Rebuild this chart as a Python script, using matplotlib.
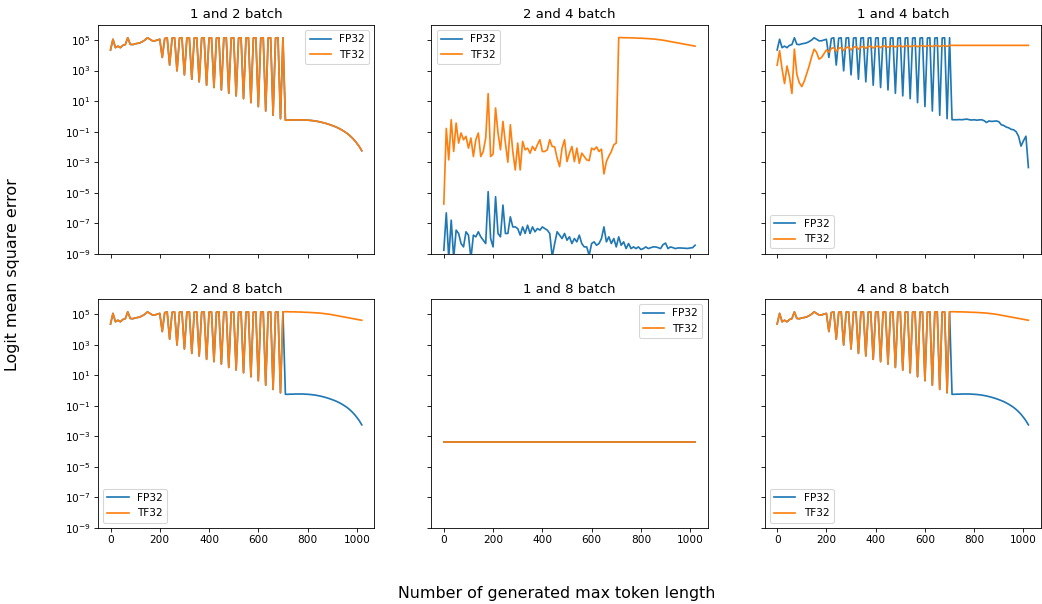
import matplotlib
matplotlib.use("Agg")
import matplotlib.pyplot as plt
import numpy as np

# Max token length grid (x axis)
tokens = np.arange(0, 1021, 10)

# All values below are log10(logit MSE)

# Shared start of the curves, tokens 0..190
head = [4.35, 5.05, 4.5, 4.6, 4.5, 4.65, 4.7, 5.15, 4.72, 4.7,
        4.75, 4.78, 4.82, 4.9, 5.0, 5.15, 5.05, 4.95, 4.95, 5.0]

# Shared sawtooth section, tokens 200..700
saw = [5.05, 3.86, 5.10, 5.15, 3.36, 5.12, 5.15, 2.98, 5.13, 5.15,
       2.72, 5.13, 5.15, 2.43, 5.13, 5.15, 2.26, 5.13, 5.15, 2.04,
       5.13, 5.15, 1.89, 5.13, 5.15, 1.73, 5.13, 5.15, 1.51, 5.13,
       5.15, 1.34, 5.13, 5.15, 1.16, 5.13, 5.15, 0.90, 5.13, 5.15,
       0.64, 5.13, 5.15, 0.35, 5.13, 5.15, 0.07, 5.13, 5.15, -0.15,
       5.15]

# Low plateau then roll-off, tokens 710..1020
low_tail = [-0.25, -0.25, -0.24, -0.24, -0.23, -0.23, -0.23, -0.23, -0.24, -0.25,
            -0.26, -0.28, -0.30, -0.33, -0.36, -0.40, -0.44, -0.49, -0.54, -0.60,
            -0.66, -0.73, -0.81, -0.90, -1.00, -1.11, -1.24, -1.39, -1.56, -1.76,
            -1.98, -2.25]

# High plateau, tokens 710..1020
high_tail = [5.16, 5.16, 5.15, 5.15, 5.15, 5.14, 5.14, 5.13, 5.12, 5.12,
             5.11, 5.10, 5.09, 5.08, 5.07, 5.05, 5.03, 5.01, 4.99, 4.96,
             4.93, 4.90, 4.87, 4.84, 4.81, 4.78, 4.75, 4.72, 4.69, 4.66,
             4.63, 4.60]

# 2 and 4 batch
b24_tf32_head = [-5.74, -0.79, -2.85, -0.22, -2.3, -0.44, -1.75, -1.09, -1.53, -1.31,
                 -2.08, -1.42, -2.63, -1.53, -1.09, -2.63, -2.3, -1.42, 1.49, -2.63,
                 -2.47, 0.55, -1.09, -2.19, -0.33, -1.75, -3.0, -0.55, -2.3, -3.51,
                 -1.75, -3.51, -1.64, -2.19, -2.08, -2.41, -1.97, -2.23, -1.86, -1.53,
                 -2.3, -2.3, -2.19, -1.53, -1.97, -2.0, -2.74, -3.29, -2.08, -1.53,
                 -2.96, -2.41, -1.97, -2.96, -2.08, -3.07, -2.41, -2.63, -2.85, -2.9,
                 -2.08, -2.19, -2.0, -2.3, -2.15, -3.77, -2.96, -2.6, -2.3, -1.86,
                 -1.75]
b24_fp32 = [-8.77, -6.32, -9.3, -6.8, -9.3, -7.45, -7.67, -8.33, -8.55, -7.56,
            -7.78, -9.3, -7.78, -7.89, -7.56, -7.89, -8.11, -8.33, -4.93, -8.0,
            -8.55, -5.26, -7.67, -7.89, -5.81, -7.67, -7.67, -6.58, -7.24, -7.24,
            -7.35, -7.78, -7.24, -7.67, -7.13, -7.67, -7.24, -7.56, -7.35, -7.45,
            -7.24, -7.35, -7.45, -7.67, -9.2, -8.33, -7.56, -7.78, -8.0, -7.67,
            -8.11, -7.89, -8.33, -8.0, -8.22, -7.78, -8.33, -8.55, -8.55, -9.1,
            -8.33, -8.22, -8.44, -8.33, -8.0, -7.24, -8.22, -7.89, -8.33, -8.0,
            -8.55, -7.89, -8.44, -8.22, -8.66, -8.33, -8.66, -8.55, -8.66, -8.55,
            -8.72, -8.66, -8.55, -8.66, -8.6, -8.55, -8.55, -8.6, -8.66, -8.4,
            -8.3, -8.66, -8.55, -8.6, -8.66, -8.62, -8.62, -8.63, -8.64, -8.65,
            -8.62, -8.6, -8.44]

# 1 and 4 batch
b14_tf32_head = [3.35, 4.3, 3.1, 2.15, 3.3, 2.6, 1.5, 4.4, 2.75, 2.2,
                 1.95, 2.3, 2.8, 3.3, 3.9, 4.4, 4.2, 3.75, 3.85, 4.1]
b14_tf32_mid = [4.35, 4.2, 4.45, 4.5, 4.25, 4.45, 4.52, 4.3, 4.5, 4.55,
                4.35, 4.52, 4.57, 4.4, 4.55, 4.58, 4.45, 4.57, 4.6, 4.48,
                4.58, 4.6, 4.5, 4.6, 4.62, 4.52, 4.6, 4.62, 4.54, 4.61,
                4.63, 4.55, 4.62, 4.63, 4.56, 4.62, 4.63, 4.56, 4.62, 4.64,
                4.57, 4.63, 4.64, 4.57, 4.63, 4.64, 4.58, 4.63, 4.64, 4.58,
                4.65]
b14_tf32_level = 4.65
b14_fp32_tail = [-0.22, -0.22, -0.22, -0.21, -0.22, -0.2, -0.18, -0.22, -0.24, -0.22,
                 -0.25, -0.23, -0.22, -0.28, -0.4, -0.3, -0.33, -0.32, -0.3, -0.35,
                 -0.55, -0.6, -0.7, -0.75, -0.85, -0.88, -1.0, -1.3, -1.95, -1.6,
                 -1.3, -3.35]

# 1 and 8 batch: flat line, both precisions
b18_level = -3.4

n_tail = len(tokens) - len(head) - len(saw)

panels = [
    ("1 and 2 batch", head + saw + low_tail, head + saw + low_tail, "upper right"),
    ("2 and 4 batch", b24_fp32, b24_tf32_head + high_tail, "upper left"),
    ("1 and 4 batch", head + saw + b14_fp32_tail,
     b14_tf32_head + b14_tf32_mid + [b14_tf32_level] * n_tail, "lower left"),
    ("2 and 8 batch", head + saw + low_tail, head + saw + high_tail, "lower left"),
    ("1 and 8 batch", [b18_level] * len(tokens), [b18_level] * len(tokens), "upper right"),
    ("4 and 8 batch", head + saw + low_tail, head + saw + high_tail, "lower left"),
]

fig, axes = plt.subplots(2, 3, sharex=True, sharey=True,
                         figsize=(1042 / 76, 604 / 76), dpi=76)
fig.subplots_adjust(left=0.094, right=0.999, bottom=0.126, top=0.959,
                    wspace=0.206, hspace=0.197)

for ax, (title, fp32, tf32, loc) in zip(axes.flat, panels):
    ax.plot(tokens, 10.0 ** np.array(fp32), label="FP32", lw=1.6)
    ax.plot(tokens, 10.0 ** np.array(tf32), label="TF32", lw=1.6)
    ax.set_yscale("log")
    ax.set_title(title, fontsize=12.6)
    ax.legend(loc=loc)

ax0 = axes[0, 0]
ax0.set_ylim(1e-9, 1e6)
ax0.set_yticks([1e-9, 1e-7, 1e-5, 1e-3, 1e-1, 1e1, 1e3, 1e5])
ax0.yaxis.set_minor_locator(matplotlib.ticker.NullLocator())
ax0.set_xticks([0, 200, 400, 600, 800, 1000])

fig.supxlabel("Number of generated max token length", fontsize=15, x=0.534, y=0.005)
fig.supylabel("Logit mean square error", fontsize=15, x=0.005, y=0.546)

fig.savefig("out.png", dpi=76)
